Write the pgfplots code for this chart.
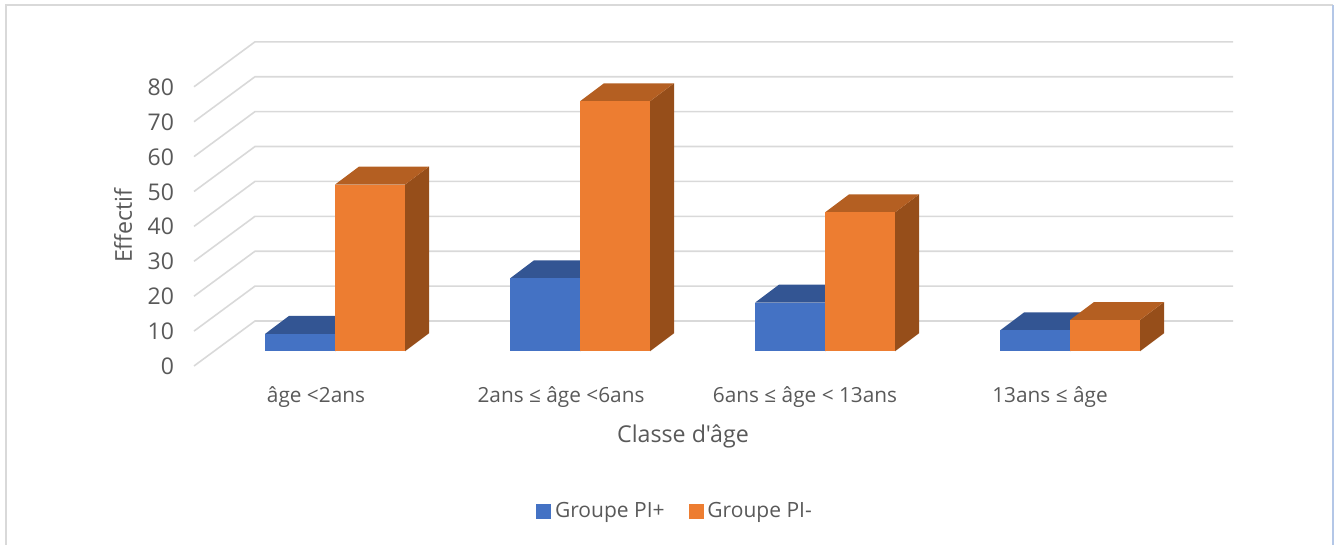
\documentclass[border=0pt]{standalone}
\usepackage{fontspec}
\newfontfamily\plainfont{Open Sans}
\setmainfont{Open Sans}
\usepackage{pgfplots}
\pgfplotsset{compat=1.18}
\definecolor{blueF}{HTML}{4472C4}
\definecolor{blueT}{HTML}{335593}
\definecolor{blueS}{HTML}{2A4A80}
\definecolor{orgF}{HTML}{ED7D31}
\definecolor{orgT}{HTML}{B45F22}
\definecolor{orgS}{HTML}{964E1A}
\definecolor{gridc}{HTML}{D9D9D9}
\definecolor{txt}{HTML}{595959}
\definecolor{edgeb}{HTML}{B4C7E7}

% one 3D bar: left x (px), value, front, top and side colours
\newcommand{\threedbar}[5]{%
  \addplot[forget plot,fill=#5,draw=none] coordinates {(#1+70,0)(#1+94,5.16)(#1+94,#2*0.995+5.16)(#1+70,#2*0.995)} -- cycle;
  \addplot[forget plot,fill=#4,draw=none] coordinates {(#1,#2*0.995)(#1+24,#2*0.995+5.16)(#1+94,#2*0.995+5.16)(#1+70,#2*0.995)} -- cycle;
  \addplot[forget plot,fill=#3,draw=none] coordinates {(#1,0)(#1,#2*0.995)(#1+70,#2*0.995)(#1+70,0)} -- cycle;
}

\begin{document}
\begin{tikzpicture}
\begin{axis}[
  scale only axis, width=670.5pt, height=272.5pt,
  xmin=0, xmax=1341, ymin=-55.5, ymax=100.66,
  clip=false,
  axis line style={draw=none},
  major tick length=0pt,
  tick style={draw=none},
  font=\fontsize{10.4}{12}\selectfont,
  /pgf/number format/assume math mode=true,
  xtick={316,561,805,1050},
  xticklabels={âge <2ans,2ans ≤ âge <6ans,6ans ≤ âge < 13ans,13ans ≤ âge},
  xticklabel style={text=txt,anchor=base,yshift=71pt},
  ytick={0,10,...,80},
  yticklabel style={text=txt,anchor=east,xshift=90.5pt,yshift=-7.5pt,font=\fontsize{11.5}{12}\selectfont},
  xlabel={\plainfont Classe d'âge},
  xlabel style={text=txt,at={(axis cs:683,-24.5)},anchor=center,font=\fontsize{11.6}{14}\selectfont},
  ylabel={Effectif},
  ylabel style={text=txt,at={(axis cs:123,36)},anchor=center,rotate=0,font=\fontsize{11.6}{14}\selectfont},
  legend columns=2,
  legend style={draw=none,fill=none,at={(axis cs:676,-45.9)},anchor=center,text=txt,
    /tikz/every even column/.append style={column sep=10pt},
    font=\fontsize{10.5}{12}\selectfont},
  legend image code/.code={\fill[#1] (0pt,-3.5pt) rectangle (7pt,3.5pt);},
]
\addlegendimage{blueF}
\addlegendentry{Groupe PI+}
\addlegendimage{orgF}
\addlegendentry{Groupe PI-}

% chart frame
\addplot[forget plot,gridc,line width=0.8pt] coordinates {(6,-55.5)(6,99.2)(1333,99.2)};
\addplot[forget plot,edgeb,line width=0.8pt] coordinates {(1333,99.2)(1333,-55.5)};

% gridlines on floor side and back wall
\pgfplotsinvokeforeach{0,10,...,80}{
  \addplot[forget plot,gridc,line width=0.8pt] coordinates {(194,#1-4.21)(255,#1+8.68)(1233,#1+8.68)};
}

\threedbar{265}{5}{blueF}{blueT}{blueS}
\threedbar{335}{48}{orgF}{orgT}{orgS}
\threedbar{510}{21}{blueF}{blueT}{blueS}
\threedbar{580}{72}{orgF}{orgT}{orgS}
\threedbar{755}{14}{blueF}{blueT}{blueS}
\threedbar{825}{40}{orgF}{orgT}{orgS}
\threedbar{1000}{6}{blueF}{blueT}{blueS}
\threedbar{1070}{9}{orgF}{orgT}{orgS}
\end{axis}
\end{tikzpicture}
\end{document}
